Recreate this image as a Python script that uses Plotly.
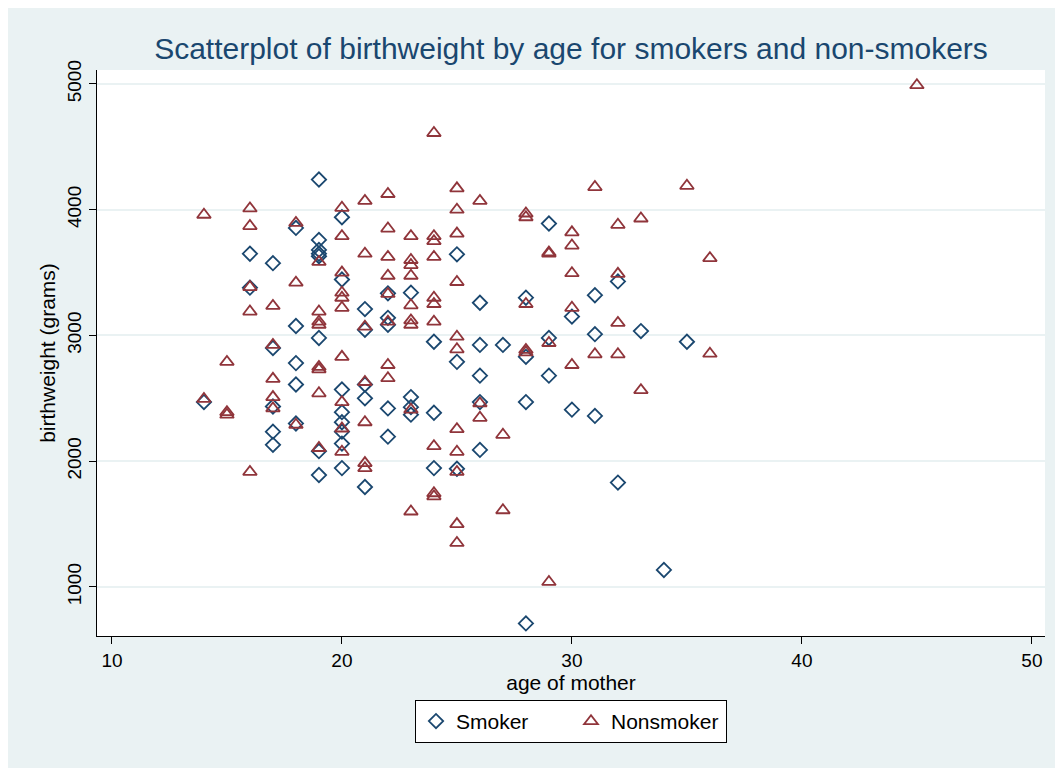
import plotly.graph_objects as go

# Smokers: age of mother and birthweight (grams)
smoker_age = [14,
              16, 16,
              17, 17, 17, 17, 17,
              18, 18, 18, 18, 18,
              19, 19, 19, 19, 19, 19, 19, 19,
              20, 20, 20, 20, 20, 20, 20, 20,
              21, 21, 21, 21, 21,
              22, 22, 22, 22, 22,
              23, 23, 23, 23,
              24, 24, 24,
              25, 25, 25,
              26, 26, 26, 26, 26,
              27,
              28, 28, 28, 28,
              29, 29, 29,
              30, 30,
              31, 31, 31,
              32, 32,
              33, 34, 35]
smoker_bwt = [2470,
              3650, 3380,
              3575, 2900, 2435, 2235, 2130,
              3855, 3075, 2780, 2610, 2300,
              4240, 3760, 3680, 3650, 3630, 2980, 2080, 1890,
              3940, 3445, 2570, 2390, 2310, 2235, 2140, 1945,
              3210, 3045, 2610, 2500, 1795,
              3335, 3140, 3085, 2420, 2195,
              3340, 2510, 2430, 2370,
              2950, 2385, 1945,
              3645, 2790, 1940,
              3260, 2925, 2680, 2470, 2090,
              2925,
              3300, 2830, 2470, 710,
              3890, 2980, 2680,
              3150, 2410,
              3320, 3010, 2360,
              3430, 1830,
              3035, 1135, 2950]

# Nonsmokers
nonsmoker_age = [14, 14,
                 15, 15, 15,
                 16, 16, 16, 16, 16,
                 17, 17, 17, 17, 17,
                 18, 18, 18,
                 19, 19, 19, 19, 19, 19, 19, 19,
                 20, 20, 20, 20, 20, 20, 20, 20, 20, 20,
                 21, 21, 21, 21, 21, 21, 21,
                 22, 22, 22, 22, 22, 22, 22, 22,
                 23, 23, 23, 23, 23, 23, 23, 23, 23,
                 24, 24, 24, 24, 24, 24, 24, 24, 24, 24,
                 25, 25, 25, 25, 25, 25, 25, 25, 25, 25, 25,
                 26, 26, 26,
                 27, 27,
                 28, 28, 28, 28, 28,
                 29, 29, 29, 29,
                 30, 30, 30, 30, 30,
                 31, 31,
                 32, 32, 32, 32,
                 33, 33,
                 35,
                 36, 36,
                 45]
nonsmoker_bwt = [3960, 2495,
                 2790, 2390, 2370,
                 4010, 3870, 3385, 3190, 1915,
                 3235, 2925, 2655, 2510, 2420,
                 3895, 3420, 2290,
                 3585, 3190, 3110, 3085, 2750, 2730, 2540, 2105,
                 4015, 3790, 3500, 3340, 3300, 3220, 2830, 2470, 2260, 2075,
                 4070, 3650, 3070, 2630, 2310, 1985, 1945,
                 4125, 3850, 3625, 3475, 3330, 3110, 2765, 2660,
                 3790, 3600, 3560, 3475, 3240, 3120, 3085, 2410, 1600,
                 4610, 3790, 3750, 3625, 3300, 3250, 3110, 2120, 1745, 1720,
                 4170, 4000, 3810, 3425, 2990, 2890, 2255, 2075, 1915, 1500, 1350,
                 4070, 2460, 2345,
                 2210, 1610,
                 3970, 3940, 3250, 2885, 2865,
                 3660, 3650, 2940, 1040,
                 3820, 3715, 3495, 3220, 2765,
                 4180, 2850,
                 3880, 3490, 3100, 2850,
                 3930, 2565,
                 4190,
                 3615, 2855,
                 4990]

x_ticks = [10, 20, 30, 40, 50]
y_ticks = [1000, 2000, 3000, 4000, 5000]

NAVY = "#1A476F"
MAROON = "#90353B"
BG = "#EAF2F3"
FONT = "Liberation Sans"

fig = go.Figure()
fig.add_trace(go.Scatter(
    x=smoker_age, y=smoker_bwt, mode="markers", name="Smoker",
    marker=dict(symbol="diamond-open", size=11, color=NAVY,
                line=dict(width=1.8, color=NAVY)),
))
fig.add_trace(go.Scatter(
    x=nonsmoker_age, y=nonsmoker_bwt, mode="markers", name="Nonsmoker",
    marker=dict(symbol="triangle-up-open", size=12, color=MAROON,
                line=dict(width=1.8, color=MAROON)),
))

fig.update_layout(
    width=1047, height=760,
    paper_bgcolor=BG, plot_bgcolor="white",
    margin=dict(l=89, r=10, t=62, b=132),
    font=dict(family=FONT, color="black", size=19),
    title=dict(text="Scatterplot of birthweight by age for smokers and non-smokers",
               x=0.5, xref="paper", xanchor="center", y=0.947, yref="container",
               yanchor="middle",
               font=dict(family=FONT, size=30, color=NAVY)),
    showlegend=True,
    legend=dict(orientation="h", x=0.5, xanchor="center", y=-0.113, yanchor="top",
                bgcolor="white", bordercolor="black", borderwidth=1,
                font=dict(family=FONT, size=21, color="black"),
                itemwidth=30, entrywidth=110, tracegroupgap=0),
)
fig.update_xaxes(
    range=[9.35, 50.57], tickvals=x_ticks, ticks="outside", ticklen=7,
    tickcolor="black", showline=True, linecolor="black", linewidth=1,
    showgrid=False, zeroline=False, mirror=False,
    title=dict(text="age of mother", font=dict(size=21), standoff=4),
    tickfont=dict(size=19),
)
fig.update_yaxes(
    range=[610, 5111], tickvals=y_ticks, ticks="outside", ticklen=7,
    tickcolor="black", showline=True, linecolor="black", linewidth=1,
    showgrid=True, gridcolor=BG, gridwidth=2, zeroline=False,
    tickangle=-90,
    title=dict(text="birthweight (grams)", font=dict(size=21), standoff=3),
    tickfont=dict(size=19),
)

fig.write_html("out.html")
